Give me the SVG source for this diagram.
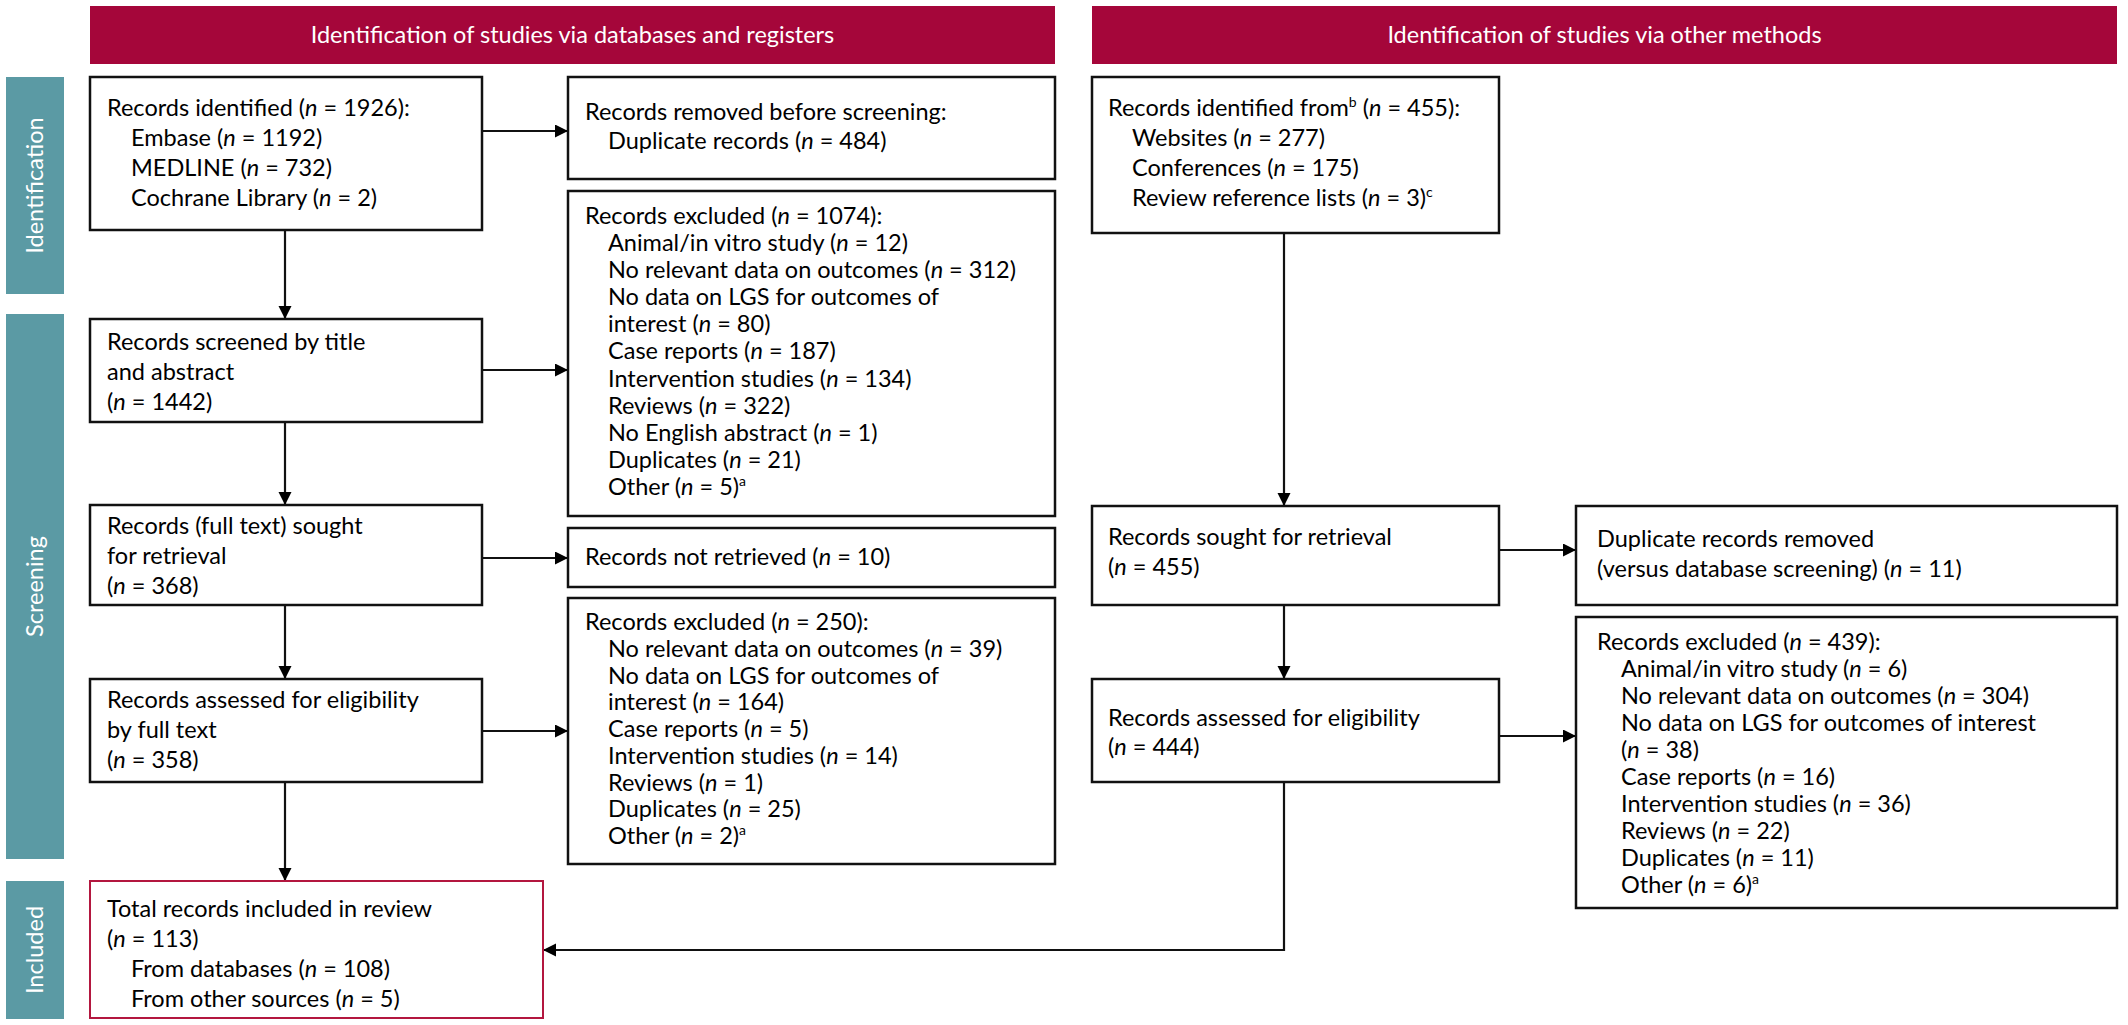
<svg xmlns="http://www.w3.org/2000/svg" width="2128" height="1025" viewBox="0 0 2128 1025">
<style>
.bg{fill:#ffffff}
.hdr{fill:#a5063a}
.side{fill:#5b9aa4}
.box{fill:#ffffff;stroke:#111111;stroke-width:2.5}
.rbox{fill:#ffffff;stroke:#b3173f;stroke-width:2}
.t{font-family:Lato,"Liberation Sans",sans-serif;font-size:23.5px;fill:#000000}
.ht{font-family:Lato,"Liberation Sans",sans-serif;font-size:23.5px;fill:#ffffff;text-anchor:middle}
.st{font-family:Lato,"Liberation Sans",sans-serif;font-size:23.5px;fill:#ffffff;text-anchor:middle}
.i{font-style:italic}
.sup{font-size:14px}
.c{fill:none;stroke:#111111;stroke-width:2.2}
</style>
<defs>
<marker id="ah" markerUnits="userSpaceOnUse" markerWidth="14" markerHeight="14" refX="13" refY="6.5" orient="auto">
<path d="M0,0 L13,6.5 L0,13 z" fill="#000000"/>
</marker>
</defs>
<rect class="bg" x="0" y="0" width="2128" height="1025"/>

<g id="header-left"><rect class="hdr" x="90" y="6" width="965" height="58"/><text class="ht" x="572.5" y="43">Identification of studies via databases and registers</text></g>
<g id="header-right"><rect class="hdr" x="1092" y="6" width="1025" height="58"/><text class="ht" x="1604.5" y="43">Identification of studies via other methods</text></g>

<g id="side-identification"><rect class="side" x="6" y="77" width="58" height="217"/><text class="st" transform="translate(43,185.5) rotate(-90)">Identification</text></g>
<g id="side-screening"><rect class="side" x="6" y="314" width="58" height="545"/><text class="st" transform="translate(43,586.5) rotate(-90)">Screening</text></g>
<g id="side-included"><rect class="side" x="6" y="881" width="58" height="138"/><text class="st" transform="translate(43,950) rotate(-90)">Included</text></g>

<g id="connectors">
<line class="c" x1="482" y1="131" x2="568" y2="131" marker-end="url(#ah)"/>
<line class="c" x1="285" y1="230" x2="285" y2="319" marker-end="url(#ah)"/>
<line class="c" x1="482" y1="370" x2="568" y2="370" marker-end="url(#ah)"/>
<line class="c" x1="285" y1="422" x2="285" y2="505" marker-end="url(#ah)"/>
<line class="c" x1="482" y1="558" x2="568" y2="558" marker-end="url(#ah)"/>
<line class="c" x1="285" y1="605" x2="285" y2="679" marker-end="url(#ah)"/>
<line class="c" x1="482" y1="731" x2="568" y2="731" marker-end="url(#ah)"/>
<line class="c" x1="285" y1="782" x2="285" y2="881" marker-end="url(#ah)"/>
<line class="c" x1="1284" y1="233" x2="1284" y2="506" marker-end="url(#ah)"/>
<line class="c" x1="1499" y1="550" x2="1576" y2="550" marker-end="url(#ah)"/>
<line class="c" x1="1284" y1="605" x2="1284" y2="679" marker-end="url(#ah)"/>
<line class="c" x1="1499" y1="736" x2="1576" y2="736" marker-end="url(#ah)"/>
<polyline class="c" points="1284,782 1284,950 543,950" marker-end="url(#ah)"/>
</g>

<g id="db-identified"><rect class="box" x="90" y="77" width="392" height="153"/>
<text class="t" x="107" y="116">Records identified (<tspan class="i">n</tspan> = 1926):</text>
<text class="t" x="131" y="146">Embase (<tspan class="i">n</tspan> = 1192)</text>
<text class="t" x="131" y="176">MEDLINE (<tspan class="i">n</tspan> = 732)</text>
<text class="t" x="131" y="206">Cochrane Library (<tspan class="i">n</tspan> = 2)</text>
</g>

<g id="db-removed"><rect class="box" x="568" y="77" width="487" height="102"/>
<text class="t" x="585" y="120">Records removed before screening:</text>
<text class="t" x="608" y="149">Duplicate records (<tspan class="i">n</tspan> = 484)</text>
</g>

<g id="db-excluded-1074"><rect class="box" x="568" y="191" width="487" height="325"/>
<text class="t" x="585" y="224">Records excluded (<tspan class="i">n</tspan> = 1074):</text>
<text class="t" x="608" y="251">Animal/in vitro study (<tspan class="i">n</tspan> = 12)</text>
<text class="t" x="608" y="278">No relevant data on outcomes (<tspan class="i">n</tspan> = 312)</text>
<text class="t" x="608" y="305">No data on LGS for outcomes of</text>
<text class="t" x="608" y="332">interest (<tspan class="i">n</tspan> = 80)</text>
<text class="t" x="608" y="359">Case reports (<tspan class="i">n</tspan> = 187)</text>
<text class="t" x="608" y="387">Intervention studies (<tspan class="i">n</tspan> = 134)</text>
<text class="t" x="608" y="414">Reviews (<tspan class="i">n</tspan> = 322)</text>
<text class="t" x="608" y="441">No English abstract (<tspan class="i">n</tspan> = 1)</text>
<text class="t" x="608" y="468">Duplicates (<tspan class="i">n</tspan> = 21)</text>
<text class="t" x="608" y="495">Other (<tspan class="i">n</tspan> = 5)<tspan class="sup" dy="-9">a</tspan></text>
</g>

<g id="db-screened"><rect class="box" x="90" y="319" width="392" height="103"/>
<text class="t" x="107" y="350">Records screened by title</text>
<text class="t" x="107" y="380">and abstract</text>
<text class="t" x="107" y="410">(<tspan class="i">n</tspan> = 1442)</text>
</g>

<g id="db-sought"><rect class="box" x="90" y="505" width="392" height="100"/>
<text class="t" x="107" y="534">Records (full text) sought</text>
<text class="t" x="107" y="564">for retrieval</text>
<text class="t" x="107" y="594">(<tspan class="i">n</tspan> = 368)</text>
</g>

<g id="db-not-retrieved"><rect class="box" x="568" y="528" width="487" height="59"/>
<text class="t" x="585" y="565">Records not retrieved (<tspan class="i">n</tspan> = 10)</text>
</g>

<g id="db-assessed"><rect class="box" x="90" y="679" width="392" height="103"/>
<text class="t" x="107" y="708">Records assessed for eligibility</text>
<text class="t" x="107" y="738">by full text</text>
<text class="t" x="107" y="768">(<tspan class="i">n</tspan> = 358)</text>
</g>

<g id="db-excluded-250"><rect class="box" x="568" y="598" width="487" height="266"/>
<text class="t" x="585" y="630">Records excluded (<tspan class="i">n</tspan> = 250):</text>
<text class="t" x="608" y="657">No relevant data on outcomes (<tspan class="i">n</tspan> = 39)</text>
<text class="t" x="608" y="684">No data on LGS for outcomes of</text>
<text class="t" x="608" y="710">interest (<tspan class="i">n</tspan> = 164)</text>
<text class="t" x="608" y="737">Case reports (<tspan class="i">n</tspan> = 5)</text>
<text class="t" x="608" y="764">Intervention studies (<tspan class="i">n</tspan> = 14)</text>
<text class="t" x="608" y="791">Reviews (<tspan class="i">n</tspan> = 1)</text>
<text class="t" x="608" y="817">Duplicates (<tspan class="i">n</tspan> = 25)</text>
<text class="t" x="608" y="844">Other (<tspan class="i">n</tspan> = 2)<tspan class="sup" dy="-9">a</tspan></text>
</g>

<g id="included-total"><rect class="rbox" x="90" y="881" width="453" height="137"/>
<text class="t" x="107" y="917">Total records included in review</text>
<text class="t" x="107" y="947">(<tspan class="i">n</tspan> = 113)</text>
<text class="t" x="131" y="977">From databases (<tspan class="i">n</tspan> = 108)</text>
<text class="t" x="131" y="1007">From other sources (<tspan class="i">n</tspan> = 5)</text>
</g>

<g id="other-identified"><rect class="box" x="1092" y="77" width="407" height="156"/>
<text class="t" x="1108" y="116">Records identified from<tspan class="sup" dy="-9">b</tspan><tspan dy="9"> (</tspan><tspan class="i">n</tspan> = 455):</text>
<text class="t" x="1132" y="146">Websites (<tspan class="i">n</tspan> = 277)</text>
<text class="t" x="1132" y="176">Conferences (<tspan class="i">n</tspan> = 175)</text>
<text class="t" x="1132" y="206">Review reference lists (<tspan class="i">n</tspan> = 3)<tspan class="sup" dy="-9">c</tspan></text>
</g>

<g id="other-sought"><rect class="box" x="1092" y="506" width="407" height="99"/>
<text class="t" x="1108" y="545">Records sought for retrieval</text>
<text class="t" x="1108" y="575">(<tspan class="i">n</tspan> = 455)</text>
</g>

<g id="other-duplicates"><rect class="box" x="1576" y="506" width="541" height="99"/>
<text class="t" x="1597" y="547">Duplicate records removed</text>
<text class="t" x="1597" y="577">(versus database screening) (<tspan class="i">n</tspan> = 11)</text>
</g>

<g id="other-assessed"><rect class="box" x="1092" y="679" width="407" height="103"/>
<text class="t" x="1108" y="726">Records assessed for eligibility</text>
<text class="t" x="1108" y="755">(<tspan class="i">n</tspan> = 444)</text>
</g>

<g id="other-excluded-439"><rect class="box" x="1576" y="617" width="541" height="291"/>
<text class="t" x="1597" y="650">Records excluded (<tspan class="i">n</tspan> = 439):</text>
<text class="t" x="1621" y="677">Animal/in vitro study (<tspan class="i">n</tspan> = 6)</text>
<text class="t" x="1621" y="704">No relevant data on outcomes (<tspan class="i">n</tspan> = 304)</text>
<text class="t" x="1621" y="731">No data on LGS for outcomes of interest</text>
<text class="t" x="1621" y="758">(<tspan class="i">n</tspan> = 38)</text>
<text class="t" x="1621" y="785">Case reports (<tspan class="i">n</tspan> = 16)</text>
<text class="t" x="1621" y="812">Intervention studies (<tspan class="i">n</tspan> = 36)</text>
<text class="t" x="1621" y="839">Reviews (<tspan class="i">n</tspan> = 22)</text>
<text class="t" x="1621" y="866">Duplicates (<tspan class="i">n</tspan> = 11)</text>
<text class="t" x="1621" y="893">Other (<tspan class="i">n</tspan> = 6)<tspan class="sup" dy="-9">a</tspan></text>
</g>
</svg>
